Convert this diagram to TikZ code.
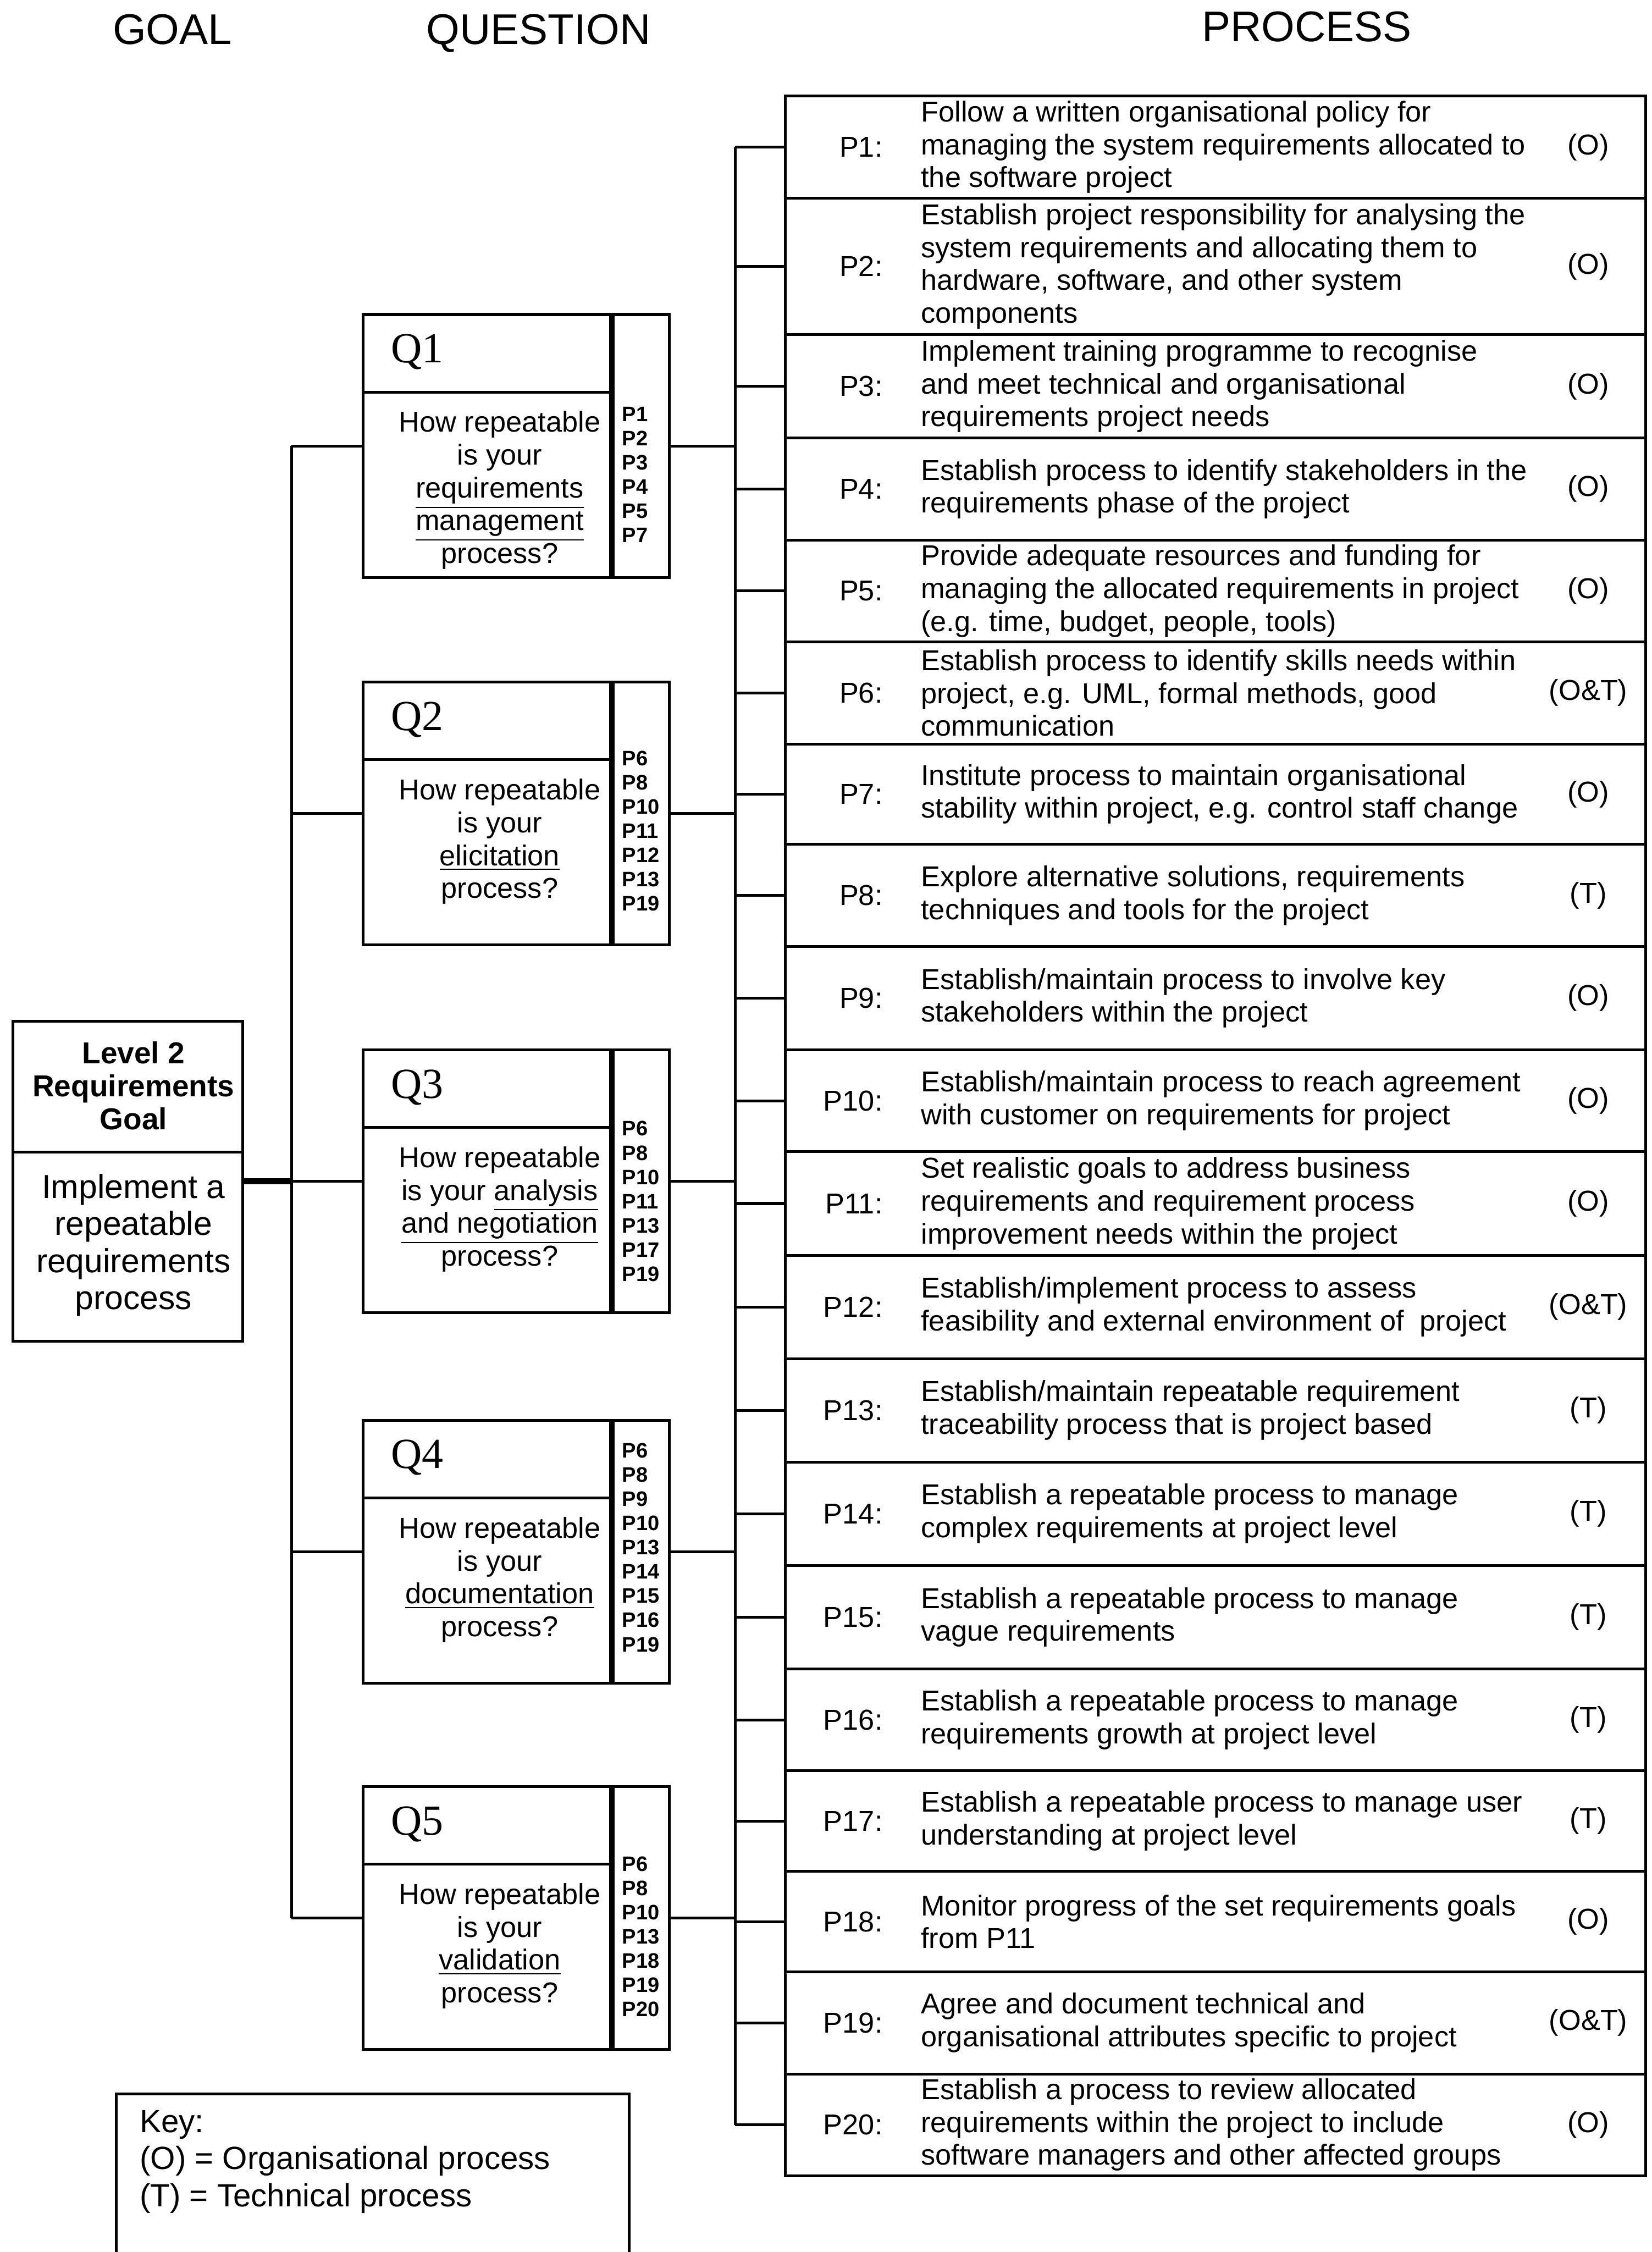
\documentclass[tikz,border=0pt]{standalone}
\usepackage{fontspec}
\setmainfont{Liberation Sans}
\newfontfamily\qserif{Liberation Serif}
\usetikzlibrary{calc}
\tikzset{
	outline/.style ={draw=black, line width=1.1pt},
	conn/.style    ={line width=1.1pt},
	heading/.style ={anchor=base, inner sep=0pt, font=\fontsize{17}{20}\selectfont},
	% process rows
	pbox/.style    ={rectangle, outline, anchor=north west, minimum width=11.98cm, inner sep=0pt},
	plabel/.style  ={anchor=east, inner sep=0pt, font=\fontsize{11.4}{13}\selectfont},
	ptext/.style   ={anchor=west, align=left, inner sep=0pt, font=\fontsize{11.4}{13}\selectfont},
	ptype/.style   ={anchor=center, inner sep=0pt, font=\fontsize{11.4}{13}\selectfont},
	% question boxes
	qbox/.style    ={rectangle, outline, anchor=north west, minimum width=3.44cm, minimum height=3.66cm, inner sep=0pt},
	qcol/.style    ={rectangle, outline, anchor=north west, minimum width=0.78cm, minimum height=3.66cm, inner sep=0pt},
	qhead/.style   ={anchor=west, inner sep=0pt, font=\qserif\fontsize{17}{20}\selectfont},
	qtext/.style   ={anchor=north, align=center, inner sep=0pt, font=\fontsize{11.4}{13}\selectfont},
	qlist/.style   ={anchor=west, align=left, inner sep=0pt, font=\bfseries\fontsize{8.3}{9.6}\selectfont},
	% goal and key
	goalbox/.style ={rectangle, outline, anchor=north west, minimum width=3.2cm, minimum height=4.46cm, inner sep=0pt},
	keybox/.style  ={rectangle, outline, anchor=north west, minimum width=7.14cm, minimum height=2.8cm, inner sep=0pt},
}
\begin{document}
\begin{tikzpicture}[x=0.2mm, y=-0.2mm]
	\useasboundingbox (0,0) rectangle (1150,1568);
	\clip (0,0) rectangle (1150,1568);
	\coordinate (lbus) at (203,0);
	\coordinate (rbus) at (512,0);

	\node[heading] (hgoal) at (120,31) {GOAL};
	\node[heading] (hquest) at (375,31) {QUESTION};
	\node[heading] (hproc) at (910,29) {PROCESS};

	% goal
	\node[goalbox] (goal) at (8,710) {};
	\draw[conn] ($(goal.north west)+(0,92)$) -- ($(goal.north east)+(0,92)$);
	\node[align=center, inner sep=0pt, font=\bfseries\fontsize{12}{13}\selectfont] (goaltop) at ($(goal.north)+(4,46)$) {Level 2\\Requirements\\Goal};
	\node[align=center, inner sep=0pt, font=\fontsize{13.2}{14.7}\selectfont] (goalbot) at ($(goal.north)+(4,157)$) {Implement a\\repeatable\\requirements\\process};

	% processes
	\foreach \n/\ya/\yb/\kind/\txt in {
		1/66/137/(O)/{Follow a written organisational policy for\\managing the system requirements allocated to\\the software project},
		2/137/232/(O)/{Establish project responsibility for analysing the\\system requirements and allocating them to\\hardware, software, and other system\\components},
		3/232/304/(O)/{Implement training programme to recognise\\and meet technical and organisational\\requirements project needs},
		4/304/375/(O)/{Establish process to identify stakeholders in the\\requirements phase of the project},
		5/375/446/(O)/{Provide adequate resources and funding for\\managing the allocated requirements in project\\(e.g. time, budget, people, tools)},
		6/446/517/(O\&T)/{Establish process to identify skills needs within\\project, e.g. UML, formal methods, good\\communication},
		7/517/587/(O)/{Institute process to maintain organisational\\stability within project, e.g. control staff change},
		8/587/658/(T)/{Explore alternative solutions, requirements\\techniques and tools for the project},
		9/658/730/(O)/{Establish/maintain process to involve key\\stakeholders within the project},
		10/730/801/(O)/{Establish/maintain process to reach agreement\\with customer on requirements for project},
		11/801/873/(O)/{Set realistic goals to address business\\requirements and requirement process\\improvement needs within the project},
		12/873/945/(O\&T)/{Establish/implement process to assess\\feasibility and external environment of~ project},
		13/945/1017/(T)/{Establish/maintain repeatable requirement\\traceability process that is project based},
		14/1017/1089/(T)/{Establish a repeatable process to manage\\complex requirements at project level},
		15/1089/1161/(T)/{Establish a repeatable process to manage\\vague requirements},
		16/1161/1232/(T)/{Establish a repeatable process to manage\\requirements growth at project level},
		17/1232/1302/(T)/{Establish a repeatable process to manage user\\understanding at project level},
		18/1302/1372/(O)/{Monitor progress of the set requirements goals\\from P11},
		19/1372/1443/(O\&T)/{Agree and document technical and\\organisational attributes specific to project},
		20/1443/1514/(O)/{Establish a process to review allocated\\requirements within the project to include\\software managers and other affected groups}}{
		\node[pbox, minimum height={(\yb-\ya)*0.2mm}] (p\n) at (546,\ya) {};
		\node[plabel] (pl\n) at ($(p\n.west)+(69,0)$) {P\n:};
		\node[ptext] (pt\n) at ($(p\n.west)+(95,0)$) {\txt};
		\node[ptype] (pk\n) at ($(p\n.west)+(560,0)$) {\kind};
		\draw[conn] (p\n.west -| rbus) -- (p\n.west);
	}
	\draw[conn] (p1.west -| rbus) -- (p20.west -| rbus);

	% questions
	\foreach \n/\ya/\sh/\lst/\txt in {
		1/218/20/{P1\\P2\\P3\\P4\\P5\\P7}/{How repeatable\\is your\\\underline{requirements}\\\underline{management}\\process?},
		2/474/12/{P6\\P8\\P10\\P11\\P12\\P13\\P19}/{How repeatable\\is your\\\underline{elicitation}\\process?},
		3/730/14/{P6\\P8\\P10\\P11\\P13\\P17\\P19}/{How repeatable\\is your \underline{analysis}\\\underline{and negotiation}\\process?},
		4/988/-3/{P6\\P8\\P9\\P10\\P13\\P14\\P15\\P16\\P19}/{How repeatable\\is your\\\underline{documentation}\\process?},
		5/1243/13/{P6\\P8\\P10\\P13\\P18\\P19\\P20}/{How repeatable\\is your\\\underline{validation}\\process?}}{
		\node[qbox] (q\n) at (252,\ya) {};
		\node[qcol] (c\n) at (q\n.north east) {};
		\draw[conn] ($(q\n.north west)+(0,55)$) -- ($(q\n.north east)+(0,55)$);
		\node[qhead] (qh\n) at ($(q\n.north west)+(20,27)$) {Q\n};
		\node[qtext] (qt\n) at ($(q\n.north)+(9,68)$) {\txt};
		\node[qlist] (ql\n) at ($(c\n.west)+(7,\sh)$) {\lst};
		\draw[conn] (q\n.west -| lbus) -- (q\n.west);
		\draw[conn] (c\n.east) -- (c\n.east -| rbus);
	}
	\draw[conn] (q1.west -| lbus) -- (q5.west -| lbus);
	\draw[conn, line width=2.6pt] (goal.east) -- (goal.east -| lbus);

	% key
	\node[keybox] (key) at (80,1457) {};
	\node[anchor=north west, align=left, inner sep=0pt, font=\fontsize{12.7}{14.7}\selectfont] (keytxt) at (97,1469) {Key:\\(O) = Organisational process\\(T) = Technical process};
\end{tikzpicture}
\end{document}
